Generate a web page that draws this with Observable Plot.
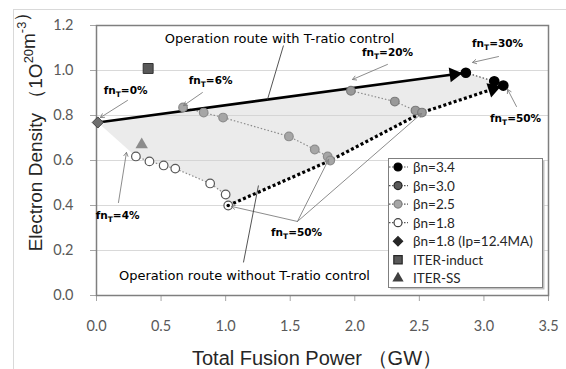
<!DOCTYPE html>
<html><head><meta charset="utf-8">
<script src="https://cdn.jsdelivr.net/npm/d3@7"></script>
<script src="https://cdn.jsdelivr.net/npm/@observablehq/plot@0.6"></script>
<style>
body{margin:0;background:#fff}
#chart{position:relative;width:566px;height:369px;overflow:hidden}
</style>
</head><body><div id="chart"></div>
<script>
// ---------- data ----------
const xTicks = [0, 0.5, 1.0, 1.5, 2.0, 2.5, 3.0, 3.5];
const yTicks = [0, 0.2, 0.4, 0.6, 0.8, 1.0, 1.2];

const beta34X = [2.86, 3.08, 3.15];
const beta34Y = [0.99, 0.952, 0.933];
const beta30X = [1.97, 2.31, 2.47, 2.52];
const beta30Y = [0.91, 0.862, 0.822, 0.813];
const beta25X = [0.67, 0.83, 0.98, 1.49, 1.69, 1.79, 1.81];
const beta25Y = [0.836, 0.813, 0.791, 0.707, 0.649, 0.618, 0.60];
const beta18X = [0.305, 0.41, 0.52, 0.61, 0.88, 1.00, 1.02];
const beta18Y = [0.618, 0.596, 0.578, 0.564, 0.498, 0.449, 0.40];
const ipX = [0.01], ipY = [0.769];
const iterInductX = [0.40], iterInductY = [1.009];
const iterSSX = [0.35], iterSSY = [0.67];

const legendNames = ["βn=3.4", "βn=3.0", "βn=2.5", "βn=1.8", "βn=1.8 (Ip=12.4MA)", "ITER-induct", "ITER-SS"];

// annotation labels (data units)
const routeLabels = ["Operation route with T-ratio control", "Operation route without T-ratio control"];
const routeLabelX = [1.417, 1.146];
const routeLabelY = [1.142, 0.089];
const fnLabels = ["fn_T=0%", "fn_T=6%", "fn_T=20%", "fn_T=30%", "fn_T=50%", "fn_T=4%", "fn_T=50%"];
const fnLabelX = [0.225, 0.883, 2.253, 3.105, 3.245, 0.163, 1.549];
const fnLabelY = [0.911, 0.956, 1.08, 1.12, 0.787, 0.356, 0.28];
// pointer arrows
const arrowX1 = [0.24, 0.82, 2.253, 3.113, 3.252, 0.17, 1.556, 1.556, 1.556];
const arrowY1 = [0.867, 0.902, 1.027, 1.062, 0.84, 0.413, 0.329, 0.329, 0.329];
const arrowX2 = [0.03, 0.674, 1.982, 2.912, 3.183, 0.232, 1.045, 1.797, 2.517];
const arrowY2 = [0.791, 0.844, 0.96, 1.036, 0.916, 0.636, 0.396, 0.604, 0.809];
// leader lines for route labels
const leaderX1 = [1.448, 1.138], leaderY1 = [1.111, 0.147];
const leaderX2 = [1.324, 1.254], leaderY2 = [0.871, 0.489];

// ---------- layout ----------
const W = 566, H = 369, ML = 96, MR = 18, MT = 25, MB = 74;
const XMAX = 3.5, YMAX = 1.2;
const kx = (W - ML - MR) / XMAX, ky = (H - MT - MB) / YMAX;

const rows = (xs, ys) => xs.map((x, i) => ({x, y: ys[i]}));
const s34 = rows(beta34X, beta34Y), s30 = rows(beta30X, beta30Y),
      s25 = rows(beta25X, beta25Y), s18 = rows(beta18X, beta18Y);
const ip = rows(ipX, ipY), induct = rows(iterInductX, iterInductY), ss = rows(iterSSX, iterSSY);

const last = a => a[a.length - 1];
const solidRoute = [ip[0], s34[0]];
const dottedRoute = [last(s18), last(s25), last(s30), last(s34)];
const shade = [ip[0], ...s34, last(s30), last(s25), ...s18.slice().reverse(), ip[0]];

function head(from, to, back) {
  const dx = (to.x - from.x) * kx, dy = -(to.y - from.y) * ky;
  const len = Math.hypot(dx, dy), ux = dx / len, uy = dy / len;
  return {x: to.x - back * ux / kx, y: to.y + back * uy / ky, rot: Math.atan2(dy, dx) * 180 / Math.PI + 90};
}
const heads = [head(solidRoute[0], solidRoute[1], 12), head(dottedRoute[2], dottedRoute[3], 11)];

const arrows = arrowX1.map((x1, i) => ({x1, y1: arrowY1[i], x2: arrowX2[i], y2: arrowY2[i]}));
const leaders = leaderX1.map((x1, i) => ({x1, y1: leaderY1[i], x2: leaderX2[i], y2: leaderY2[i]}));
const fnRows = fnLabels.map((t, i) => ({t, x: fnLabelX[i], y: fnLabelY[i]}));
const routeRows = routeLabels.map((t, i) => ({t, x: routeLabelX[i], y: routeLabelY[i]}));

const dotLine = {x: "x", y: "y", stroke: "#8c8c8c", strokeWidth: 1.2, strokeDasharray: "1.5,2", strokeLinecap: "butt"};

const plot = Plot.plot({
  width: W, height: H,
  marginLeft: ML, marginRight: MR, marginTop: MT, marginBottom: MB,
  x: {domain: [0, XMAX]},
  y: {domain: [0, YMAX]},
  style: {fontFamily: "Lato, sans-serif", background: "white", overflow: "visible"},
  marks: [
    Plot.gridY(yTicks, {stroke: "#d9d9d9", strokeOpacity: 1}),
    Plot.line(shade, {x: "x", y: "y", fill: "#cfcfcf", fillOpacity: 0.42, stroke: null}),
    Plot.axisX(xTicks, {tickFormat: d => d.toFixed(1), tickSize: 6, tickPadding: 19, stroke: "#a6a6a6", fill: "#595959", fontSize: 14.5, label: null}),
    Plot.axisY(yTicks, {tickFormat: d => d.toFixed(1), tickSize: 6, tickPadding: 17, stroke: "#a6a6a6", fill: "#595959", fontSize: 14.5, label: null}),
    Plot.frame({stroke: "#7f7f7f", strokeWidth: 1.5}),
    // series connecting lines
    Plot.line(s18, dotLine),
    Plot.line(s25, dotLine),
    Plot.line(s30, dotLine),
    Plot.line(s34, {...dotLine, stroke: "#404040"}),
    // routes
    Plot.line(solidRoute, {x: "x", y: "y", stroke: "black", strokeWidth: 2.6}),
    Plot.line(dottedRoute, {x: "x", y: "y", stroke: "black", strokeWidth: 3.2, strokeDasharray: "3,2.4", strokeLinecap: "butt", strokeLinejoin: "miter"}),
    // series markers
    Plot.dot(s18, {x: "x", y: "y", r: 4.3, fill: "white", stroke: "#595959", strokeWidth: 1.2}),
    Plot.dot(s25, {x: "x", y: "y", r: 4.3, fill: "#a6a6a6", stroke: "#8c8c8c", strokeWidth: 1.2}),
    Plot.dot(s30, {x: "x", y: "y", r: 4.3, fill: "#999999", stroke: "#7a7a7a", strokeWidth: 1.2}),
    Plot.dot(s34, {x: "x", y: "y", r: 4.6, fill: "black", stroke: "black"}),
    Plot.dot([dottedRoute[0]], {x: "x", y: "y", r: 1.8, fill: "black"}),
    Plot.dot(ip, {x: "x", y: "y", symbol: "diamond2", r: 5, fill: "#6f6f6f", stroke: "#404040", strokeWidth: 1}),
    Plot.dot(induct, {x: "x", y: "y", symbol: "square", r: 5.6, fill: "#595959", stroke: "#333", strokeWidth: 1}),
    Plot.dot(ss, {x: "x", y: "y", symbol: "triangle", r: 4.6, fill: "#8c8c8c", stroke: "none"}),
    // arrow heads of routes
    Plot.dot(heads, {x: "x", y: "y", symbol: "triangle", r: 5.5, fill: "black", stroke: "none", rotate: "rot"}),
    // annotations
    Plot.arrow(arrows, {x1: "x1", y1: "y1", x2: "x2", y2: "y2", stroke: "#7f7f7f", strokeWidth: 0.9, headLength: 7}),
    Plot.link(leaders, {x1: "x1", y1: "y1", x2: "x2", y2: "y2", stroke: "#404040", strokeWidth: 0.9}),
    Plot.text(routeRows, {x: "x", y: "y", text: "t", fontFamily: "DejaVu Sans", fontSize: 13, fill: "black"}),
    Plot.text(fnRows, {x: "x", y: "y", text: "t", fontFamily: "DejaVu Sans", fontWeight: "bold", fontSize: 10.5, fill: "black"})
  ]
});

const svg = d3.select(plot);

// subscript T in fn_T labels
svg.selectAll("text").each(function () {
  const t = this.textContent;
  if (t.indexOf("_T") < 0) return;
  const [a, b] = t.split("_T");
  const el = d3.select(this);
  el.text(null);
  el.append("tspan").text(a);
  el.append("tspan").attr("font-size", "0.72em").attr("dy", 3).text("T");
  el.append("tspan").attr("dy", -3).text(b);
});

// outer chart-area border
svg.insert("rect", ":first-child").attr("x", 13.5).attr("y", 9.5).attr("width", 700).attr("height", 500)
  .attr("fill", "none").attr("stroke", "#d9d9d9");

// axis titles
function rich(sel, parts) {
  parts.forEach(p => {
    if (p.sup) {
      sel.append("tspan").attr("font-size", "0.68em").attr("dy", -7).text(p.t);
      sel.append("tspan").attr("dy", 7).text("");
    } else sel.append("tspan").text(p.t);
  });
}
const xt = svg.append("text").attr("x", 317).attr("y", 358).attr("text-anchor", "middle")
  .attr("dominant-baseline", "central").attr("font-family", "Liberation Sans, Arial, sans-serif")
  .attr("font-size", 20).attr("fill", "#262626");
rich(xt, [{t: "Total Fusion Power （GW）"}]);
const yt = svg.append("text").attr("transform", "translate(35,127) rotate(-90)").attr("text-anchor", "middle")
  .attr("dominant-baseline", "central").attr("font-family", "Liberation Sans, Arial, sans-serif")
  .attr("font-size", 19).attr("fill", "#262626");
rich(yt, [{t: "Electron Density （1O"}, {t: "20", sup: true}, {t: "m"}, {t: "-3", sup: true}, {t: "）"}]);

// legend
const lg = svg.append("g").attr("text-anchor", "start");
lg.append("rect").attr("x", 390.5).attr("y", 160.5).attr("width", 154).attr("height", 129).attr("fill", "#bfbfbf");
lg.append("rect").attr("x", 388.5).attr("y", 158.5).attr("width", 154).attr("height", 129)
  .attr("fill", "white").attr("stroke", "#7f7f7f");
const legendStyles = [
  {sym: d3.symbolCircle, fill: "black", stroke: "black", line: true},
  {sym: d3.symbolCircle, fill: "#595959", stroke: "#262626", line: true},
  {sym: d3.symbolCircle, fill: "#a6a6a6", stroke: "#7f7f7f", line: true},
  {sym: d3.symbolCircle, fill: "white", stroke: "#404040", line: true},
  {sym: d3.symbolDiamond2, fill: "#262626", stroke: "#262626", line: false, size: 55},
  {sym: d3.symbolSquare, fill: "#595959", stroke: "#262626", line: false, size: 70},
  {sym: d3.symbolTriangle, fill: "#404040", stroke: "none", line: false, size: 55}
];
legendNames.forEach((name, i) => {
  const cy = 167 + i * 18.55, st = legendStyles[i];
  if (st.line) lg.append("line").attr("x1", 389).attr("x2", 408).attr("y1", cy).attr("y2", cy)
    .attr("stroke", "#595959").attr("stroke-width", 1.2).attr("stroke-dasharray", "1.5,1.5");
  lg.append("path").attr("d", d3.symbol(st.sym, st.size || 50)()).attr("transform", `translate(398,${cy})`)
    .attr("fill", st.fill).attr("stroke", st.stroke).attr("stroke-width", 1.2);
  lg.append("text").attr("x", 413).attr("y", cy).attr("dominant-baseline", "central").attr("text-anchor", "start")
    .attr("font-family", "Lato, sans-serif").attr("font-size", 13.5).attr("fill", "#262626").text(name);
});

document.getElementById("chart").appendChild(plot);
</script>
</body></html>
